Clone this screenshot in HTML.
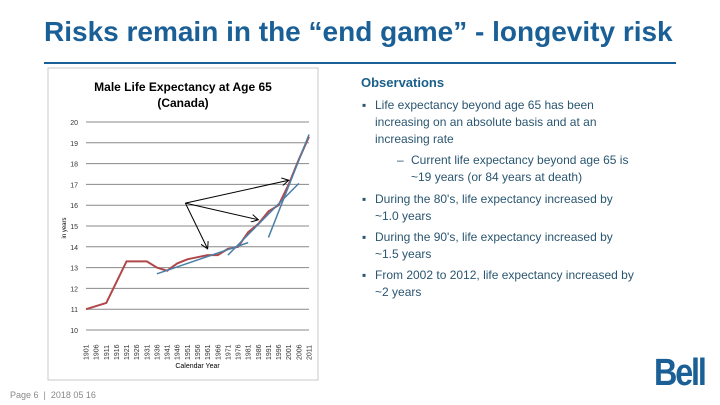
<!DOCTYPE html>
<html><head><meta charset="utf-8"><style>
body{margin:0;width:720px;height:405px;background:#fff;position:relative;overflow:hidden;font-family:"Liberation Sans",Arial,sans-serif}
.t{position:absolute;white-space:nowrap}
.obs{color:#2a5670;font-size:12px}
</style></head><body>
<div class="t" style="left:44px;top:16px;font-size:28px;font-weight:bold;color:#1a5f96;letter-spacing:0px">Risks remain in the “end game” - longevity risk</div>
<div style="position:absolute;left:44px;top:62px;width:632px;height:2px;background:#1a5f96"></div>

<div class="t" style="left:361px;top:75px;font-size:13px;font-weight:bold;color:#1a5f8a">Observations</div>
<div class="t obs" style="left:362px;top:97px;line-height:17px">▪</div>
<div class="t obs" style="left:375px;top:97px;line-height:17px">Life expectancy beyond age 65 has been<br>increasing on an absolute basis and at an<br>increasing rate</div>
<div class="t obs" style="left:397px;top:152px;line-height:17px">–</div>
<div class="t obs" style="left:411px;top:152px;line-height:17px">Current life expectancy beyond age 65 is<br>~19 years (or 84 years at death)</div>
<div class="t obs" style="left:362px;top:191px;line-height:17px">▪</div>
<div class="t obs" style="left:375px;top:191px;line-height:17px">During the 80's, life expectancy increased by<br>~1.0 years</div>
<div class="t obs" style="left:362px;top:229px;line-height:17px">▪</div>
<div class="t obs" style="left:375px;top:229px;line-height:17px">During the 90's, life expectancy increased by<br>~1.5 years</div>
<div class="t obs" style="left:362px;top:267px;line-height:17px">▪</div>
<div class="t obs" style="left:375px;top:267px;line-height:17px">From 2002 to 2012, life expectancy increased by<br>~2 years</div>

<div class="t" style="left:10px;top:390px;font-size:9px;color:#888">Page 6 &nbsp;|&nbsp; 2018 05 16</div>
<div class="t" style="left:654px;top:352px;font-size:38px;font-weight:bold;color:#1a5f96;letter-spacing:-2.5px;transform:scaleX(0.85);transform-origin:left">Bell</div>

<svg id="chart" width="720" height="405" style="position:absolute;left:0;top:0"></svg>
<script>
const years=["1901","1906","1911","1916","1921","1926","1931","1936","1941","1946","1951","1956","1961","1966","1971","1976","1981","1986","1991","1996","2001","2006","2011"];
const lifeExp=[11.0,11.15,11.3,12.3,13.3,13.3,13.3,13.0,12.85,13.2,13.4,13.5,13.6,13.6,13.9,14.0,14.7,15.1,15.7,16.0,17.0,18.2,19.3];
const yTicks=[10,11,12,13,14,15,16,17,18,19,20];
const trendStartIdx=[7,14,18];
const trendStartVal=[12.7,13.6,14.45];
const trendEndIdx=[16,21,22];
const trendEndVal=[14.2,17.05,19.4];
const arrowFromIdx=10, arrowFromVal=16.1;
const arrowToIdx=[20,17,12];
const arrowToVal=[17.2,15.3,13.9];
const NS="http://www.w3.org/2000/svg";
const svg=document.getElementById('chart');
const X0=86,X1=309,Y0=330,Y1=122;
const x=i=>X0+i*(X1-X0)/(years.length-1);
const y=v=>Y0-(v-10)*(Y0-Y1)/10;
function mk(t,a){const e=document.createElementNS(NS,t);for(const k in a)e.setAttribute(k,a[k]);svg.appendChild(e);return e;}
let e=mk('rect',{x:48,y:68,width:270,height:312,fill:'none',stroke:'#c8c8c8','stroke-width':1});


e=mk('text',{x:183,y:91,'text-anchor':'middle','font-size':12,'font-weight':'bold',fill:'#000'});e.textContent='Male Life Expectancy at Age 65';


e=mk('text',{x:183,y:107,'text-anchor':'middle','font-size':12,'font-weight':'bold',fill:'#000'});e.textContent='(Canada)';


yTicks.forEach(v=>{
 const g=mk('line',{x1:X0,x2:X1,y1:y(v),y2:y(v),stroke:'#888','stroke-width':1});
 
 
 const t=mk('text',{x:X0-8,y:y(v)+3,'text-anchor':'end','font-size':7,fill:'#333'});t.textContent=v;
 
 
});
years.forEach((yr,i)=>{
 const t=mk('text',{x:0,y:0,'font-size':7,fill:'#333',transform:`translate(${x(i)+2.5},${Y0+30}) rotate(-90)`});t.textContent=yr;
 
 
});
e=mk('text',{x:(X0+X1)/2,y:368,'text-anchor':'middle','font-size':7,fill:'#000'});e.textContent='Calendar Year';


e=mk('text',{x:0,y:0,'font-size':6,fill:'#000',transform:`translate(66,228) rotate(-90)`,'text-anchor':'middle'});e.textContent='in years';


e=mk('polyline',{points:lifeExp.map((v,i)=>x(i)+','+y(v)).join(' '),fill:'none',stroke:'#b0474a','stroke-width':2});


trendStartIdx.forEach((s,k)=>{
 const l=mk('line',{x1:x(s),y1:y(trendStartVal[k]),x2:x(trendEndIdx[k]),y2:y(trendEndVal[k]),stroke:'#4a7fa8','stroke-width':1.5});
 
 
});
const d=mk('defs',{});
const m=document.createElementNS(NS,'marker');
[['id','ah'],['markerWidth','8'],['markerHeight','8'],['refX','7'],['refY','4'],['orient','auto'],['markerUnits','userSpaceOnUse']].forEach(a=>m.setAttribute(a[0],a[1]));
const mp=document.createElementNS(NS,'path');mp.setAttribute('d','M0,0 L7,4 L0,8');mp.setAttribute('fill','none');mp.setAttribute('stroke','#000');
m.appendChild(mp);d.appendChild(m);
arrowToIdx.forEach((t,k)=>{
 const l=mk('line',{x1:x(arrowFromIdx)-2,y1:y(arrowFromVal),x2:x(t),y2:y(arrowToVal[k]),stroke:'#000','stroke-width':1,'marker-end':'url(#ah)'});
 
 
});
</script>
</body></html>
